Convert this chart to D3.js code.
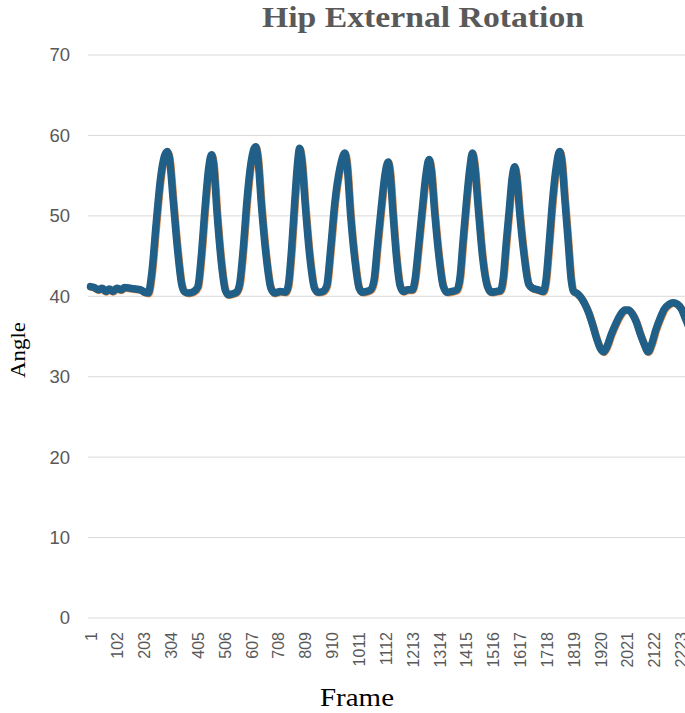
<!DOCTYPE html>
<html>
<head>
<meta charset="utf-8">
<script src="https://cdn.jsdelivr.net/npm/d3@7"></script>
<style>
  html, body { margin: 0; padding: 0; background: #fff; overflow: hidden; }
  svg { display: block; }
</style>
</head>
<body>
<svg id="chart" width="685" height="713"></svg>
<script>
// ---- data ----
const title = "Hip External Rotation";
const xTitle = "Frame";
const yTitle = "Angle";
const xTickLabels = [1,102,203,304,405,506,607,708,809,910,1011,1112,1213,1314,1415,1516,1617,1718,1819,1920,2021,2122,2223];
const yTicks = [0,10,20,30,40,50,60,70];

const frames = [
  1,15,30,45,58,72,85,100,115,130,150,170,190,205,218,
  232,248,264,280,290,298,312,328,344,354,370,390,405,
  418,432,446,456,464,478,494,508,520,535,550,562,
  576,590,606,622,630,645,662,680,695,715,735,745,
  758,770,780,788,796,810,826,844,858,875,890,
  905,920,940,958,966,980,996,1012,1025,1040,1055,1068,
  1080,1095,1110,1121,1128,1140,1152,1166,1178,1195,1212,1222,
  1235,1250,1264,1275,1283,1296,1312,1328,1343,1360,1380,1392,
  1402,1415,1428,1438,1446,1460,1476,1495,1510,1528,1543,1555,
  1565,1576,1588,1597,1604,1617,1633,1650,1665,1685,1705,1715,
  1728,1740,1754,1766,1774,1786,1798,1810,1819,1830,1845,1860,1875,1890,1905,1920,1932,
  1945,1960,1978,1995,2012,2025,2040,2055,2070,2085,2099,
  2112,2128,2145,2160,2178,2193,2210,2225,2240,2255,2270,2290
];
const angles = [
  41.2,41.1,40.8,41.0,40.6,40.9,40.6,41.0,40.8,41.1,41.0,40.9,40.8,40.5,40.4,
  43.0,49.0,54.5,57.5,58.0,57.2,52.0,46.0,41.5,40.6,40.4,40.6,41.2,
  45.0,51.0,56.0,57.6,56.5,50.0,44.0,40.8,40.2,40.3,40.5,41.5,
  46.0,52.0,56.8,58.6,57.5,51.0,45.0,41.0,40.4,40.6,40.5,41.3,
  46.0,52.0,56.5,58.4,57.0,51.0,45.0,41.0,40.5,40.6,41.3,
  46.0,51.5,56.0,57.8,56.5,50.0,44.5,41.0,40.5,40.6,40.8,42.0,
  46.0,51.0,55.3,56.7,55.5,50.0,45.0,41.3,40.6,40.8,40.8,42.0,
  46.0,51.0,55.3,57.0,55.8,50.5,45.0,41.3,40.5,40.6,40.8,42.5,
  46.5,51.5,55.8,57.8,56.5,51.0,45.0,41.2,40.5,40.6,40.7,42.5,
  46.5,50.5,54.8,56.1,55.0,50.0,45.0,41.5,41.0,40.8,40.6,42.0,
  47.0,52.0,56.2,58.0,57.0,52.0,47.0,42.0,40.6,40.4,39.9,39.1,38.0,36.5,34.8,33.5,33.1,
  33.8,35.2,36.6,37.7,38.3,38.3,37.8,36.8,35.3,34.0,33.1,
  34.0,35.8,37.3,38.4,39.0,39.2,39.0,38.4,37.2,36.0,34.8,33.5
];

// ---- layout ----
const svg = d3.select("#chart");
const W = 685, H = 713;
const plotLeft = 88, plotTop = 55, plotBottom = 618;

const x = d3.scaleLinear().domain([1, 2223]).range([90.5, 681]);
const y = d3.scaleLinear().domain([0, 70]).range([plotBottom, plotTop]);

// gridlines
svg.append("g").selectAll("line").data(yTicks).join("line")
  .attr("x1", plotLeft).attr("x2", W)
  .attr("y1", d => y(d)).attr("y2", d => y(d))
  .attr("stroke", "#d9d9d9").attr("stroke-width", 1);

// y axis labels
const yAxis = d3.axisLeft(y).tickValues(yTicks).tickSize(0).tickPadding(0);
const gy = svg.append("g").attr("transform", `translate(70,0)`).call(yAxis);
gy.select(".domain").remove();
gy.selectAll("text")
  .attr("font-family", "'Liberation Sans', Arial, sans-serif")
  .attr("font-size", 18.5).attr("fill", "#595959");

// x axis labels
const xAxis = d3.axisBottom(x).tickValues(xTickLabels).tickSize(0).tickPadding(0).tickFormat(d3.format("d"));
const gx = svg.append("g").attr("transform", `translate(0,${plotBottom})`).call(xAxis);
gx.select(".domain").remove();
gx.selectAll("text")
  .attr("font-family", "'Liberation Sans', Arial, sans-serif")
  .attr("font-size", 16).attr("fill", "#595959")
  .attr("text-anchor", "end")
  .attr("dy", "0.35em")
  .attr("transform", "translate(0,14) rotate(-90)")
  .attr("y", 0).attr("x", 0);

// lines (two nearly coincident series: orange underneath, blue on top)
const pts = frames.map((f, i) => [f, angles[i]]);
const line = d3.line().x(d => x(d[0])).y(d => y(d[1])).curve(d3.curveMonotoneX);

svg.append("path").datum(pts)
  .attr("d", line).attr("fill", "none")
  .attr("transform", "translate(0.6,0.6)")
  .attr("stroke", "#E8893F").attr("stroke-width", 7.5)
  .attr("stroke-linejoin", "round").attr("stroke-linecap", "round");
svg.append("path").datum(pts)
  .attr("d", line).attr("fill", "none")
  .attr("stroke", "#1F5F88").attr("stroke-width", 7.5)
  .attr("stroke-linejoin", "round").attr("stroke-linecap", "round");

// title
svg.append("text").attr("x", 423).attr("y", 27)
  .attr("text-anchor", "middle")
  .attr("font-family", "'Liberation Serif', 'Times New Roman', serif")
  .attr("font-weight", "bold").attr("font-size", 29).attr("fill", "#595959")
  .attr("textLength", 322).attr("lengthAdjust", "spacingAndGlyphs")
  .text(title);

// axis titles
svg.append("text")
  .attr("transform", "translate(25,350) rotate(-90)")
  .attr("text-anchor", "middle")
  .attr("font-family", "'Liberation Serif', 'Times New Roman', serif")
  .attr("font-size", 21).attr("fill", "#000")
  .attr("textLength", 56).attr("lengthAdjust", "spacingAndGlyphs")
  .text(yTitle);

svg.append("text").attr("x", 357).attr("y", 706)
  .attr("text-anchor", "middle")
  .attr("font-family", "'Liberation Serif', 'Times New Roman', serif")
  .attr("font-size", 25).attr("fill", "#000")
  .attr("textLength", 74).attr("lengthAdjust", "spacingAndGlyphs")
  .text(xTitle);
</script>
</body>
</html>
